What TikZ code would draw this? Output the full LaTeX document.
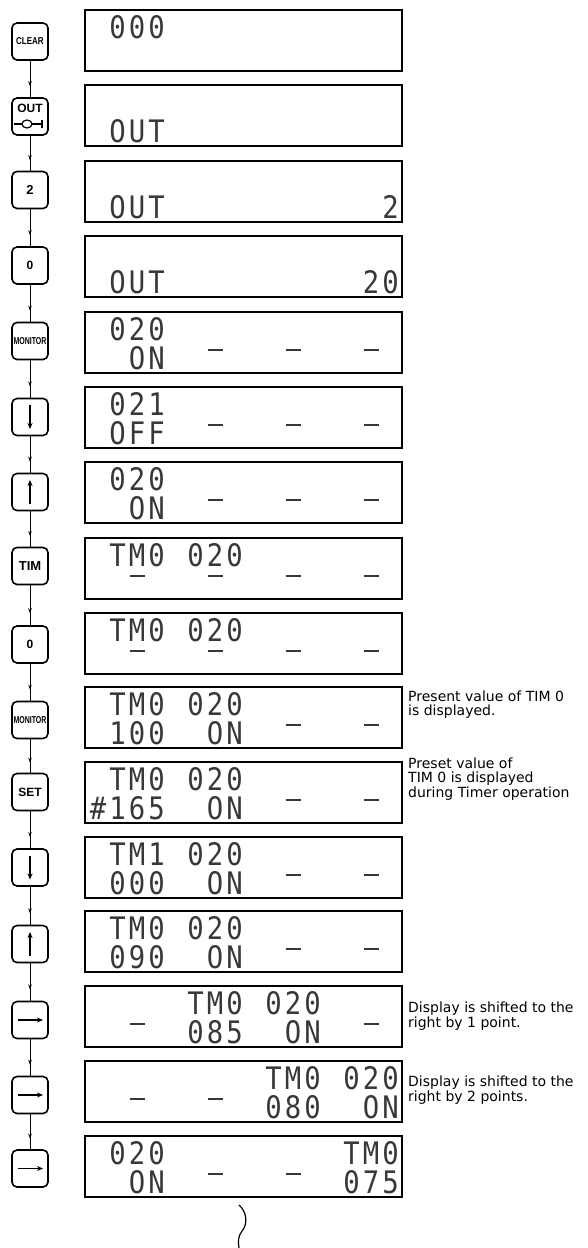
\documentclass[tikz,border=0pt]{standalone}
\usepackage{fontspec}
\usepackage{graphicx}
\setmainfont{Liberation Sans}
\newfontfamily\lcdfam[FakeStretch=0.88]{DejaVu Sans Mono}
\newfontfamily\annfam{DejaVu Sans}
\usetikzlibrary{arrows.meta,decorations.markings}

\def\lcd#1{\lcdloop#1\relax}
\def\lcdloop#1{\ifx#1\relax\else\lcdchar{#1}\expandafter\lcdloop\fi}
\def\lcdchar#1{\makebox[19.5pt][c]{\ifx#1_\else\ifx#1-\rule[18.2pt]{15pt}{1.6pt}\else#1\fi\fi}}

\tikzset{
  keybox/.style={draw, line width=1.6pt, rounded corners=5pt, minimum width=36pt,
    minimum height=37pt, inner sep=0pt, font=\bfseries},
  lcdbox/.style={draw, line width=1.5pt, minimum width=317pt, minimum height=61pt, inner sep=0pt},
  lcdline/.style={anchor=base west, inner sep=0pt, font=\lcdfam\fontsize{31}{31}\selectfont, text=black!78},
  flow/.style={line width=0.9pt, postaction={decorate},
    decoration={markings, mark=at position 0.7 with {\arrow{Stealth[length=5pt,width=3.5pt]}}}},
  keyarr/.style={line width=1.3pt, -{Stealth[length=6pt,width=5pt]}},
  ann/.style={anchor=base west, inner sep=0pt, font=\annfam\fontsize{14}{15}\selectfont},
}

\newcommand\disp[4]{%
  \node[lcdbox] (d#1) at (243.5,#2+30.5) {};
  \node[lcdline] (d#1a) at (88.25,#2+28) {\lcd{#3}};
  \node[lcdline] (d#1b) at (88.25,#2+57) {\lcd{#4}};
}

\begin{document}
\begin{tikzpicture}[x=1pt,y=-1pt]
\useasboundingbox (0,0) rectangle (588,1248);

% displays
\disp{1}{10}{_000}{}
\disp{2}{85}{}{_OUT}
\disp{3}{161}{}{_OUT___________2}
\disp{4}{236}{}{_OUT__________20}
\disp{5}{312}{_020}{__ON__-___-___-}
\disp{6}{387}{_021}{_OFF__-___-___-}
\disp{7}{462}{_020}{__ON__-___-___-}
\disp{8}{538}{_TM0_020}{__-___-___-___-}
\disp{9}{613}{_TM0_020}{__-___-___-___-}
\disp{10}{687}{_TM0_020}{_100__ON__-___-}
\disp{11}{762}{_TM0_020}{\#165__ON__-___-}
\disp{12}{837}{_TM1_020}{_000__ON__-___-}
\disp{13}{911}{_TM0_020}{_090__ON__-___-}
\disp{14}{986}{_____TM0_020}{__-__085__ON__-}
\disp{15}{1061}{_________TM0_020}{__-___-__080__ON}
\disp{16}{1136}{_020_________TM0}{__ON__-___-__075}

% keys
\node[keybox] (k1) at (30,41.5) {\fontsize{10}{10}\selectfont\scalebox{0.8}[1]{CLEAR}};
\node[keybox] (k2) at (30,116.5) {};
\node[inner sep=0pt, font=\bfseries\fontsize{12}{12}\selectfont] (k2t) at (30,108.5) {OUT};
\draw[line width=1.2pt] (14,124) -- (22,124) (32,124) -- (42,124) (42,120) -- (42,128);
\draw[line width=1.2pt] (27,124) ellipse [x radius=5, y radius=4];
\node[keybox] (k3) at (30,190) {\fontsize{13}{13}\selectfont 2};
\node[keybox] (k4) at (30,265.5) {\fontsize{12}{12}\selectfont 0};
\node[keybox] (k5) at (30,341) {\fontsize{10}{10}\selectfont\scalebox{0.7}[1]{MONITOR}};
\node[keybox] (k6) at (30,417) {};
\node[keybox] (k7) at (30,492) {};
\node[keybox] (k8) at (30,566) {\fontsize{13}{13}\selectfont TIM};
\node[keybox] (k9) at (30,644.5) {\fontsize{12}{12}\selectfont 0};
\node[keybox] (k10) at (30,720) {\fontsize{10}{10}\selectfont\scalebox{0.7}[1]{MONITOR}};
\node[keybox] (k11) at (30,792) {\fontsize{12}{12}\selectfont SET};
\node[keybox] (k12) at (30,867.5) {};
\node[keybox] (k13) at (30,944) {};
\node[keybox] (k14) at (30,1020) {};
\node[keybox] (k15) at (30,1095) {};
\node[keybox] (k16) at (30,1168.5) {};

% arrows inside keys
\draw[keyarr] ([yshift=12pt]k6.center) -- ([yshift=-12pt]k6.center);
\draw[keyarr] ([yshift=-12pt]k7.center) -- ([yshift=12pt]k7.center);
\draw[keyarr] ([yshift=12pt]k12.center) -- ([yshift=-12pt]k12.center);
\draw[keyarr] ([yshift=-12pt]k13.center) -- ([yshift=12pt]k13.center);
\draw[keyarr] ([xshift=-12pt]k14.center) -- ([xshift=13pt]k14.center);
\draw[keyarr] ([xshift=-12pt]k15.center) -- ([xshift=13pt]k15.center);
\draw[keyarr] ([xshift=-12pt]k16.center) -- ([xshift=13pt]k16.center);

% connectors
\foreach \a/\b in {1/2,2/3,3/4,4/5,5/6,6/7,7/8,8/9,9/10,10/11,11/12,12/13,13/14,14/15,15/16}
  \draw[flow] (k\a) -- (k\b);

% annotations
\node[ann] (n1a) at (408,701) {Present value of TIM 0};
\node[ann] (n1b) at (408,715) {is displayed.};
\node[ann] (n2a) at (408,768) {Preset value of};
\node[ann] (n2b) at (408,782) {TIM 0 is displayed};
\node[ann] (n2c) at (408,797) {during Timer operation};
\node[ann] (n3a) at (408,1012) {Display is shifted to the};
\node[ann] (n3b) at (408,1027) {right by 1 point.};
\node[ann] (n4a) at (408,1086) {Display is shifted to the};
\node[ann] (n4b) at (408,1101) {right by 2 points.};

% continuation mark
\draw[line width=1.2pt] (239,1205) .. controls (247,1212) and (248,1224) .. (242,1231)
  .. controls (238,1236) and (238,1242) .. (239,1248);
\end{tikzpicture}
\end{document}
